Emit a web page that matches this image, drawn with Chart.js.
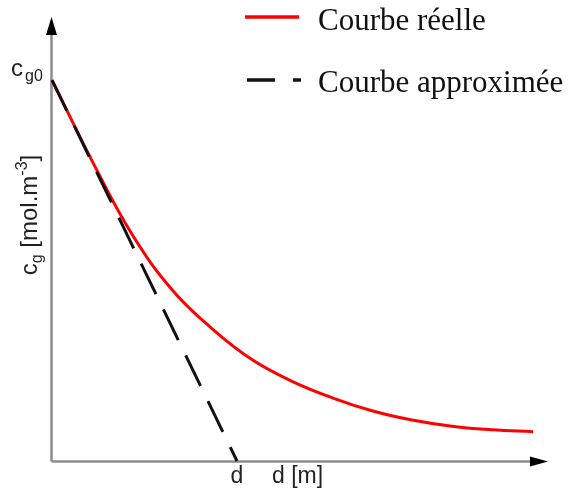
<!DOCTYPE html>
<html>
<head>
<meta charset="utf-8">
<script src="https://cdn.jsdelivr.net/npm/chart.js@4.4.1/dist/chart.umd.min.js"></script>
<style>
  html, body { margin: 0; padding: 0; background: #fff; }
  #wrap { width: 573px; height: 488px; }
</style>
</head>
<body>
<div id="wrap"><canvas id="chart"></canvas></div>
<script>
// distance (unités arbitraires) et concentration
const distance = [0, 8.1, 16.1, 24.2, 32.3, 40.3, 48.4, 56.5, 64.5, 72.6, 80.6, 88.7, 97.0];
const courbeReelle = [85.6, 67.4, 51.0, 38.5, 29.7, 22.8, 17.9, 14.2, 11.3, 9.2, 7.8, 7.0, 6.6];
// tangente à l'origine : de c_g0 jusqu'à d
const distanceApprox = [0, 37.3];
const courbeApprox = [85.6, 0];

const legendLabels = ['Courbe réelle', 'Courbe approximée'];
const axisColor = '#8c8c8c';
const textColor = '#222';

function toPoints(xs, ys) {
    return xs.map((x, i) => ({ x: x, y: ys[i] }));
}

// axes avec flèches, étiquettes et légende
const decor = {
    id: 'decor',
    beforeDatasetsDraw(chart) {
        const ctx = chart.ctx;
        const x0 = chart.scales.x.getPixelForValue(0) - 0.5;
        const y0 = chart.scales.y.getPixelForValue(0) + 0.5;
        const top = chart.chartArea.top;
        const right = chart.chartArea.right;
        ctx.save();
        ctx.strokeStyle = axisColor;
        ctx.lineWidth = 2.5;
        ctx.beginPath();
        ctx.moveTo(x0, y0);
        ctx.lineTo(x0, top + 18);
        ctx.moveTo(x0, y0);
        ctx.lineTo(right - 18, y0);
        ctx.stroke();
        ctx.fillStyle = '#000';
        ctx.beginPath();
        ctx.moveTo(x0, top + 1);
        ctx.lineTo(x0 - 5.5, top + 19);
        ctx.lineTo(x0 + 5.5, top + 19);
        ctx.closePath();
        ctx.fill();
        ctx.beginPath();
        ctx.moveTo(right, y0);
        ctx.lineTo(right - 18, y0 - 5);
        ctx.lineTo(right - 18, y0 + 5);
        ctx.closePath();
        ctx.fill();
        ctx.restore();
    },
    afterDraw(chart) {
        const ctx = chart.ctx;
        const xs = chart.scales.x, ys = chart.scales.y;
        const sans = '"Liberation Sans", Arial, sans-serif';
        const serif = '"Liberation Serif", "Times New Roman", serif';
        ctx.save();
        ctx.fillStyle = textColor;
        ctx.textBaseline = 'alphabetic';

        // c_g0
        const yc = ys.getPixelForValue(courbeApprox[0]);
        ctx.font = '24px ' + sans;
        ctx.textAlign = 'left';
        ctx.fillText('c', 11, yc - 4);
        ctx.font = '16px ' + sans;
        ctx.fillText('g0', 25, yc + 1);

        // d et d [m]
        const xd = xs.getPixelForValue(distanceApprox[1]);
        ctx.font = '23px ' + sans;
        ctx.textAlign = 'center';
        ctx.fillText('d', xd, 483);
        ctx.textAlign = 'left';
        ctx.fillText('d [m]', 272, 483);

        // c_g [mol.m-3] vertical
        const parts = [
            ['c', 24, 0], ['g', 16, 5], [' [mol.m', 24, 0], ['-3', 16, -10], [']', 24, 0]
        ];
        let total = 0;
        parts.forEach(p => { ctx.font = p[1] + 'px ' + sans; total += ctx.measureText(p[0]).width; });
        ctx.translate(37, 215);
        ctx.rotate(-Math.PI / 2);
        let cx = -total / 2;
        parts.forEach(p => {
            ctx.font = p[1] + 'px ' + sans;
            ctx.fillText(p[0], cx, p[2]);
            cx += ctx.measureText(p[0]).width;
        });
        ctx.setTransform(1, 0, 0, 1, 0, 0);

        // légende
        ctx.lineWidth = 3.5;
        ctx.strokeStyle = '#ff0000';
        ctx.beginPath();
        ctx.moveTo(245, 17);
        ctx.lineTo(299, 17);
        ctx.stroke();
        ctx.strokeStyle = '#111';
        ctx.beginPath();
        ctx.moveTo(247, 80);
        ctx.lineTo(275, 80);
        ctx.moveTo(293, 80);
        ctx.lineTo(301, 80);
        ctx.stroke();
        ctx.fillStyle = '#111';
        ctx.font = '31px ' + serif;
        ctx.fillText(legendLabels[0], 318, 30);
        ctx.fillText(legendLabels[1], 318, 92);
        ctx.restore();
    }
};

const ctx = document.getElementById('chart').getContext('2d');
const chart = new Chart(ctx, {
    type: 'line',
    data: {
        datasets: [{
            label: legendLabels[1],
            data: toPoints(distanceApprox, courbeApprox),
            borderColor: '#111',
            borderWidth: 3,
            borderDash: [34, 17],
            pointRadius: 0,
            fill: false,
            clip: false,
            order: 0
        }, {
            label: legendLabels[0],
            data: toPoints(distance, courbeReelle),
            borderColor: '#ff0000',
            borderWidth: 3,
            tension: 0.4,
            pointRadius: 0,
            fill: false,
            clip: false,
            order: 1
        }]
    },
    options: {
        responsive: true,
        maintainAspectRatio: false,
        animation: false,
        layout: { padding: { left: 52, right: 25, top: 16, bottom: 27 } },
        scales: {
            x: { type: 'linear', min: 0, max: 100, display: false },
            y: { min: 0, max: 100, display: false }
        },
        plugins: {
            legend: { display: false },
            tooltip: { enabled: false }
        }
    },
    plugins: [decor]
});
</script>
</body>
</html>
